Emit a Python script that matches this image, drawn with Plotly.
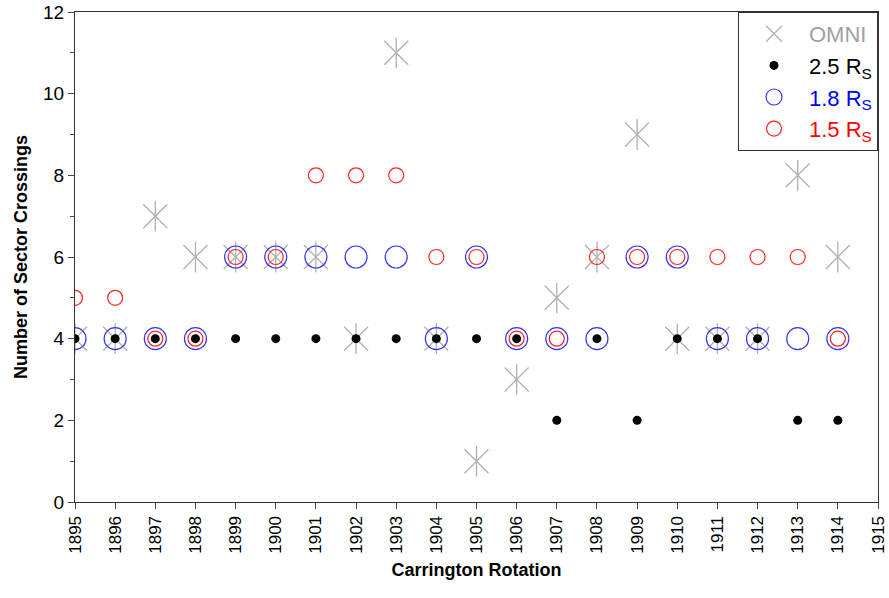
import plotly.graph_objects as go

rotations = list(range(1895, 1915))
omni = [4, 4, 7, 6, 6, 6, 6, 4, 11, 4, 1, 3, 5, 6, 9, 4, 4, 4, 8, 6]
rs25 = [4, 4, 4, 4, 4, 4, 4, 4, 4, 4, 4, 4, 2, 4, 2, 4, 4, 4, 2, 2]
rs18 = [4, 4, 4, 4, 6, 6, 6, 6, 6, 4, 6, 4, 4, 4, 6, 6, 4, 4, 4, 4]
rs15 = [5, 5, 4, 4, 6, 6, 8, 8, 8, 6, 6, 4, 4, 6, 6, 6, 6, 6, 6, 4]
x_ticks = list(range(1895, 1916))

GRAY = "#b0b0b0"
fig = go.Figure()
fig.add_trace(go.Scatter(x=rotations, y=omni, mode="markers",
                         name='<span style="color:#a0a0a0">OMNI</span>',
                         legendgroup="omni",
                         marker=dict(symbol="x-thin-open", size=24, color=GRAY,
                                     line=dict(width=1.3, color=GRAY))))
fig.add_trace(go.Scatter(x=rotations, y=omni, mode="markers", showlegend=False,
                         legendgroup="omni", hoverinfo="skip",
                         marker=dict(symbol="line-ns-open", size=22, color=GRAY,
                                     line=dict(width=1.3, color=GRAY))))
fig.add_trace(go.Scatter(x=rotations, y=rs18, mode="markers",
                         name='<span style="color:#0000ff">1.8 R<sub>S</sub></span>',
                         marker=dict(symbol="circle-open", size=22, color="#3333ff",
                                     line=dict(width=1.2, color="#3333ff"))))
fig.add_trace(go.Scatter(x=rotations, y=rs15, mode="markers",
                         name='<span style="color:#ff0000">1.5 R<sub>S</sub></span>',
                         marker=dict(symbol="circle-open", size=15, color="#ff2020",
                                     line=dict(width=1.2, color="#ff2020"))))
fig.add_trace(go.Scatter(x=rotations, y=rs25, mode="markers",
                         name='<span style="color:#000000">2.5 R<sub>S</sub></span>',
                         marker=dict(symbol="circle", size=9, color="black")))

fig.update_layout(
    width=889, height=598,
    margin=dict(l=75, r=11, t=12, b=96),
    paper_bgcolor="white", plot_bgcolor="white",
    font=dict(family="Liberation Sans, Arial, sans-serif", size=16, color="black"),
    showlegend=True,
    legend=dict(x=1.0, y=1.0, xanchor="right", yanchor="top",
                bordercolor="#333333", borderwidth=1, bgcolor="white",
                font=dict(size=22), traceorder="normal",
                itemsizing="trace", itemwidth=60),
    xaxis=dict(range=[1895, 1915], tickmode="array", tickvals=x_ticks,
               ticktext=[str(v) for v in x_ticks], tickangle=-90,
               ticks="outside", ticklen=6, tickcolor="#444444",
               showline=True, linecolor="#333333", linewidth=1.3, mirror=True,
               showgrid=False, zeroline=False, automargin=False,
               tickfont=dict(size=17),
               title=dict(text="<b>Carrington Rotation</b>", font=dict(size=18), standoff=10)),
    yaxis=dict(range=[0, 12], dtick=2, ticks="outside", ticklen=6, tickcolor="#444444",
               minor=dict(dtick=1, ticks="outside", ticklen=4, tickcolor="#444444"),
               showline=True, linecolor="#333333", linewidth=1.3, mirror=True,
               showgrid=False, zeroline=False, automargin=False,
               tickfont=dict(size=19),
               title=dict(text="<b>Number of Sector Crossings</b>", font=dict(size=18), standoff=10)),
)

fig.data[0].legendrank = 1
fig.data[4].legendrank = 2
fig.data[2].legendrank = 3
fig.data[3].legendrank = 4

fig.write_html("out.html")
